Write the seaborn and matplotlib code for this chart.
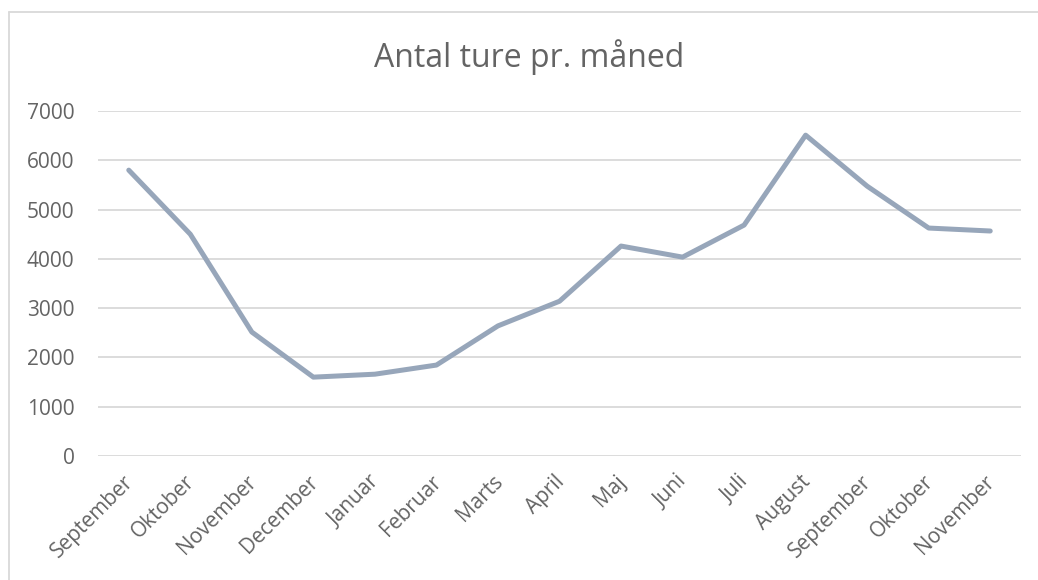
import matplotlib
matplotlib.use("Agg")
import matplotlib.pyplot as plt
import matplotlib.transforms as mtransforms
import seaborn as sns
import pandas as pd
from matplotlib.lines import Line2D

# months (Sep -> Nov of the following year)
months = ['September', 'Oktober', 'November', 'December', 'Januar', 'Februar',
          'Marts', 'April', 'Maj', 'Juni', 'Juli', 'August',
          'September', 'Oktober', 'November']
trips = [5800, 4500, 2515, 1600, 1660, 1845, 2640, 3140,
         4260, 4035, 4685, 6510, 5475, 4625, 4565]
y_ticks = [0, 1000, 2000, 3000, 4000, 5000, 6000, 7000]

sns.set_theme(style='white')
plt.rcParams['font.family'] = ['Open Sans', 'DejaVu Sans']

text_col = '#646464'
line_col = '#97A6BA'
grid_col = '#D9D9D9'

df = pd.DataFrame({'idx': range(len(months)), 'month': months, 'trips': trips})

fig = plt.figure(figsize=(10.38, 5.80), dpi=100)
ax = fig.add_axes([98 / 1038, 1 - 456 / 580, (1021 - 98) / 1038, (456 - 111) / 580])

sns.lineplot(data=df, x='idx', y='trips', ax=ax, color=line_col, linewidth=3.6,
             solid_capstyle='round', solid_joinstyle='round', zorder=3)

ax.set_xlim(-0.5, len(months) - 0.5)
ax.set_ylim(0, 7000)
ax.set_yticks(y_ticks)
ax.set_yticklabels([str(v) for v in y_ticks], color=text_col, fontsize=15)
ax.set_xticks(df['idx'])
ax.set_xticklabels(months, rotation=45, ha='right', rotation_mode='anchor',
                   color=text_col, fontsize=15)
ax.tick_params(axis='both', length=0)
ax.tick_params(axis='y', pad=17)
ax.tick_params(axis='x', pad=11)
# nudge the rotated labels a little to the left
shift = mtransforms.ScaledTranslation(-6 / 100, 0, fig.dpi_scale_trans)
for lab in ax.get_xticklabels():
    lab.set_transform(lab.get_transform() + shift)
ax.yaxis.grid(True, color=grid_col, linewidth=1.3)
ax.set_axisbelow(True)
for s in ax.spines.values():
    s.set_visible(False)
ax.set_xlabel('')
ax.set_ylabel('')

fig.text(529.5 / 1038, 1 - 57 / 580, 'Antal ture pr. måned', ha='center', va='center',
         fontsize=23, color=text_col)

# chart area border (cut off at right and bottom)
fig.add_artist(Line2D([9 / 1038, 9 / 1038], [0, 1 - 12 / 580], transform=fig.transFigure,
                      color=grid_col, linewidth=1.3))
fig.add_artist(Line2D([9 / 1038, 1], [1 - 12 / 580, 1 - 12 / 580], transform=fig.transFigure,
                      color=grid_col, linewidth=1.3))

fig.savefig('out.png', dpi=100, facecolor='white')
